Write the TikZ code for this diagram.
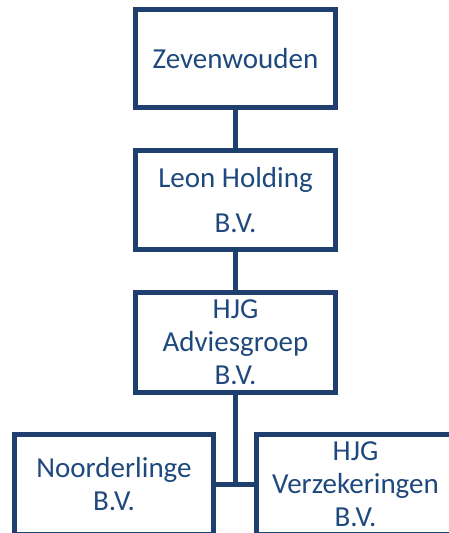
\documentclass[tikz,border=0pt]{standalone}
\usepackage{fontspec}
\setmainfont{Carlito}
\definecolor{boxline}{HTML}{1F3F6E}
\definecolor{boxtext}{HTML}{1F497D}
\begin{document}
\begin{tikzpicture}[x=1pt,y=1pt,
  orgbox/.style={draw=boxline, line width=5pt, rectangle, inner sep=0pt,
    minimum width=200pt, text=boxtext, align=center,
    font=\fontsize{29}{33}\selectfont},
  link/.style={draw=boxline, line width=5pt}]
\useasboundingbox (0,0) rectangle (449,-533);
\clip (0,0) rectangle (449,-533);
\node[orgbox, minimum height=98pt] (z) at (235.5,-58.5) {Zevenwouden};
\node[orgbox, minimum height=99pt, font=\fontsize{29}{45}\selectfont] (l) at (235.5,-200) {Leon Holding\\B.V.};
\node[orgbox, minimum height=100pt] (a) at (235.5,-342.5) {HJG\\Adviesgroep\\B.V.};
\node[orgbox, minimum width=199pt, minimum height=100pt] (n) at (114,-484.5) {Noorderlinge\\B.V.};
\node[orgbox, minimum width=199pt, minimum height=100pt] (v) at (355.5,-484.5) {HJG\\Verzekeringen\\B.V.};
\draw[link] (z.south) -- (l.north);
\draw[link] (l.south) -- (a.north);
\draw[link] (a.south) -- (a.south |- n.east);
\draw[link] (n.east) -- (v.west);
\end{tikzpicture}
\end{document}
